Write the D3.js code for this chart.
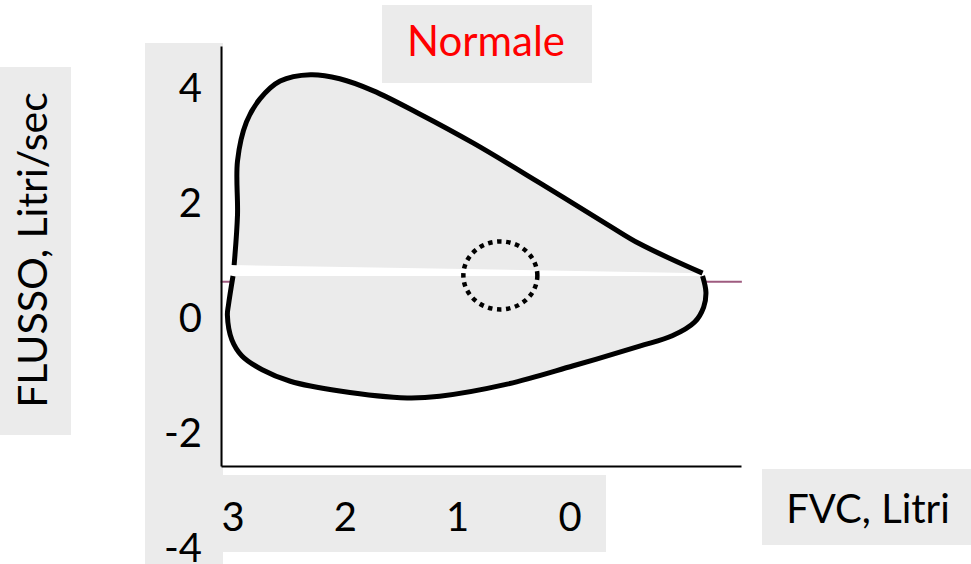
<!DOCTYPE html>
<html>
<head>
<meta charset="utf-8">
<script src="https://cdn.jsdelivr.net/npm/d3@7"></script>
<style>
  body { margin: 0; background: #fff; }
  svg { display: block; font-family: Lato, "Open Sans", sans-serif; }
</style>
</head>
<body>
<svg width="971" height="564"></svg>
<script>
// tick labels
const xTicks = [3, 2, 1, 0];
const yTicks = [4, 2, 0, -2, -4];

// expiratory limb (upper), volume in litres / flow in l/s
const upperVol = [2.99, 2.96, 2.96, 2.88, 2.76, 2.58, 2.31, 2.05, 1.75, 1.36, 0.86, 0.27, -0.33, -0.62, -1.18];
const upperFlow = [0.92, 1.79, 2.73, 3.41, 3.81, 4.12, 4.23, 4.16, 3.95, 3.57, 3.04, 2.35, 1.63, 1.29, 0.78];

// inspiratory limb (lower)
const lowerVol = [-1.18, -1.21, -1.19, -1.11, -0.91, -0.62, -0.03, 0.56, 1.16, 1.45, 2.05, 2.49, 2.74, 2.92, 3.01, 3.05, 3.04, 3.0];
const lowerFlow = [0.73, 0.45, 0.19, -0.07, -0.31, -0.49, -0.83, -1.15, -1.36, -1.39, -1.27, -1.10, -0.90, -0.66, -0.38, 0.05, 0.23, 0.73];

// zero-flow baseline and the dotted circle marker
const baselineFlow = 0.63;
const baselineVol = [3.11, -1.53];
const circleCenter = [0.62, 0.74];

const svg = d3.select('svg');
const grey = '#ebebeb';

const x = d3.scaleLinear().domain([3, 0]).range([233, 570]);
const y = d3.scaleLinear().domain([4, -4]).range([88, 548]);

// label boxes
function box(x0, y0, w, h) {
  svg.append('rect')
      .attr('x', x0).attr('y', y0)
      .attr('width', w).attr('height', h)
      .attr('fill', grey);
}
box(0, 67, 71, 368);
box(145, 43, 78, 521);
box(223, 475, 383, 77);
box(382, 5, 210, 78);
box(762, 469, 209, 76);

const chart = svg.append('g').attr('class', 'chart');

// baseline (purple)
chart.append('line')
    .attr('x1', x(baselineVol[0]))
    .attr('x2', x(baselineVol[1]))
    .attr('y1', y(baselineFlow))
    .attr('y2', y(baselineFlow))
    .attr('stroke', '#9e5b7f')
    .attr('stroke-width', 2);

const upper = upperVol.map((v, i) => [v, upperFlow[i]]);
const lower = lowerVol.map((v, i) => [v, lowerFlow[i]]);

const loopLine = d3.line()
    .x(d => x(d[0]))
    .y(d => y(d[1]))
    .curve(d3.curveCatmullRom);

[upper, lower].forEach(pts => {
  chart.append('path')
      .attr('d', loopLine(pts) + 'Z')
      .attr('fill', grey);
});
[upper, lower].forEach(pts => {
  chart.append('path')
      .attr('d', loopLine(pts))
      .attr('fill', 'none')
      .attr('stroke', '#000')
      .attr('stroke-width', 5)
      .attr('stroke-linejoin', 'round');
});

// axes, no ticks
const xAxis = d3.axisBottom(d3.scaleLinear().domain([0, 1]).range([221, 741]))
    .tickValues([])
    .tickSizeOuter(0);
chart.append('g')
    .attr('transform', 'translate(0, 466)')
    .call(xAxis)
    .select('.domain')
    .attr('stroke-width', 2);

const yAxis = d3.axisLeft(d3.scaleLinear().domain([0, 1]).range([466, 46]))
    .tickValues([])
    .tickSizeOuter(0);
chart.append('g')
    .attr('transform', 'translate(221, 0)')
    .call(yAxis)
    .select('.domain')
    .attr('stroke-width', 2);

// dotted circle
chart.append('ellipse')
    .attr('cx', x(circleCenter[0]))
    .attr('cy', y(circleCenter[1]))
    .attr('rx', 37)
    .attr('ry', 34)
    .attr('fill', 'none')
    .attr('stroke', '#000')
    .attr('stroke-width', 4.5)
    .attr('stroke-dasharray', '4.5 4.6');

// tick labels
svg.selectAll('.ytick')
    .data(yTicks)
    .join('text')
    .attr('class', 'ytick')
    .attr('x', 202)
    .attr('y', d => y(d) + 14)
    .attr('text-anchor', 'end')
    .attr('font-size', 40)
    .text(d => d);

svg.selectAll('.xtick')
    .data(xTicks)
    .join('text')
    .attr('class', 'xtick')
    .attr('x', d => x(d))
    .attr('y', 531)
    .attr('text-anchor', 'middle')
    .attr('font-size', 40)
    .text(d => d);

// titles
svg.append('text')
    .attr('x', 486)
    .attr('y', 56)
    .attr('text-anchor', 'middle')
    .attr('font-size', 42)
    .attr('fill', '#ff0000')
    .text('Normale');

svg.append('text')
    .attr('x', 868)
    .attr('y', 523)
    .attr('text-anchor', 'middle')
    .attr('font-size', 40)
    .text('FVC, Litri');

svg.append('text')
    .attr('transform', 'translate(47, 250) rotate(-90)')
    .attr('text-anchor', 'middle')
    .attr('font-size', 41)
    .text('FLUSSO, Litri/sec');
</script>
</body>
</html>
